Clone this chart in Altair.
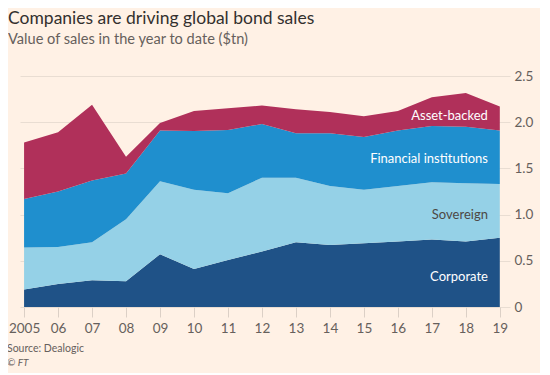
import altair as alt
import pandas as pd

years = list(range(2005, 2020))
series = ["Corporate", "Sovereign", "Financial institutions", "Asset-backed"]
corporate = [0.19, 0.25, 0.29, 0.28, 0.57, 0.41, 0.51, 0.60, 0.70, 0.67, 0.69, 0.71, 0.73, 0.71, 0.75]
sovereign = [0.455, 0.40, 0.41, 0.67, 0.79, 0.86, 0.72, 0.80, 0.70, 0.64, 0.58, 0.60, 0.62, 0.63, 0.58]
financial = [0.525, 0.60, 0.67, 0.495, 0.55, 0.635, 0.685, 0.58, 0.48, 0.57, 0.57, 0.60, 0.61, 0.61, 0.58]
asset_backed = [0.61, 0.64, 0.82, 0.18, 0.08, 0.215, 0.235, 0.20, 0.26, 0.23, 0.225, 0.21, 0.31, 0.365, 0.26]
colors = ["#1F5287", "#95D1E7", "#1F8FCE", "#B0305A"]
y_ticks = [0, 0.5, 1.0, 1.5, 2.0, 2.5]

label_x = [2018.65, 2018.65, 2018.65, 2018.65]
label_y = [0.325, 0.995, 1.60, 2.07]
label_colors = ["#FFFFFF", "#4D4845", "#FFFFFF", "#FFFFFF"]

rows = []
for i, (name, vals) in enumerate(zip(series, [corporate, sovereign, financial, asset_backed])):
    for y, v in zip(years, vals):
        rows.append({"year": y, "value": v, "series": name, "order": i})
df = pd.DataFrame(rows)

labels_df = pd.DataFrame({"x": label_x, "y": label_y, "text": series, "color": label_colors})
source_df = pd.DataFrame({"text": ["Source: Dealogic"]})
ft_df = pd.DataFrame({"text": ["© FT"]})

FONT = "Lato"
W, H = 490, 231

xscale = alt.Scale(domain=[2004.88, 2019.3], nice=False, zero=False)
yscale = alt.Scale(domain=[0, 2.5], nice=False)

xaxis = alt.Axis(values=years, title=None, grid=False, domain=False,
                 tickSize=10, tickColor="#DCD0C6", tickWidth=1,
                 labelExpr="datum.value == 2005 ? '2005' : format(datum.value % 100, '02d')",
                 labelFontSize=13.5, labelColor="#66605C", labelFont=FONT,
                 labelPadding=4, labelFlush=False, labelOverlap=False,
                 labelSeparation=0, labelBound=False)
yaxis = alt.Axis(orient="right", values=y_ticks, title=None,
                 grid=True, gridColor="#E9DDD2", gridWidth=1, domain=False, ticks=False,
                 labelExpr="datum.value == 0 ? '0' : format(datum.value, '.1f')",
                 labelFontSize=13.5, labelColor="#66605C", labelFont=FONT,
                 labelPadding=4, labelAlign="left", labelOverlap=False)

area = alt.Chart(df).mark_area(opacity=1).encode(
    x=alt.X("year:Q", scale=xscale, axis=xaxis),
    y=alt.Y("value:Q", stack="zero", scale=yscale, axis=yaxis),
    color=alt.Color("series:N", scale=alt.Scale(domain=series, range=colors), legend=None),
    order=alt.Order("order:Q", sort="ascending"),
)

labels = alt.Chart(labels_df).mark_text(align="right", baseline="middle", fontSize=13, font=FONT).encode(
    x=alt.X("x:Q", scale=xscale, axis=xaxis),
    y=alt.Y("y:Q", scale=yscale, axis=yaxis),
    text="text:N",
    color=alt.Color("color:N", scale=None),
)

source = alt.Chart(source_df).mark_text(align="left", baseline="alphabetic", fontSize=10.5, font=FONT,
                                          color="#66605C").encode(
    x=alt.value(-13), y=alt.value(H + 45), text="text:N")
ft = alt.Chart(ft_df).mark_text(align="left", baseline="alphabetic", fontSize=10, font=FONT,
                                  fontStyle="italic", color="#66605C").encode(
    x=alt.value(-13), y=alt.value(H + 59), text="text:N")

chart = alt.layer(area, labels, source, ft).properties(
    width=W, height=H,
    autosize=alt.AutoSizeParams(type="none"),
    padding={"left": 12, "top": 68, "right": 30, "bottom": 66},
    background="#FFF1E5",
    title=alt.TitleParams(
        text="Companies are driving global bond sales",
        subtitle="Value of sales in the year to date ($tn)",
        anchor="start", frame="group", dx=-12, offset=22,
        font=FONT, fontSize=17.5, fontWeight="normal", color="#33302E",
        subtitleFont=FONT, subtitleFontSize=14.6, subtitleColor="#66605C", subtitlePadding=5,
    ),
).configure_view(stroke=None).configure_axis(labelOverlap=False)

chart.save("out.html", embed_options={"renderer": "svg", "actions": False})
